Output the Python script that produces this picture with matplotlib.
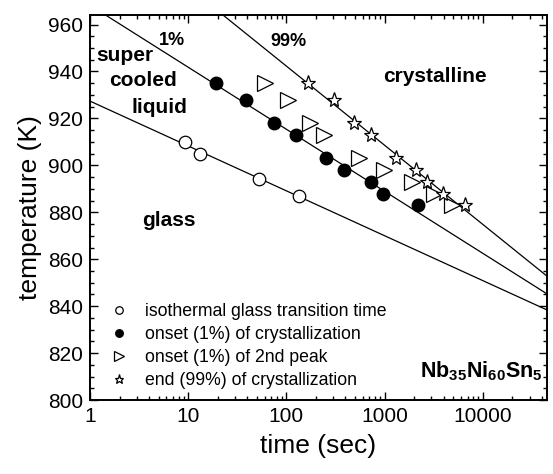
import numpy as np
import matplotlib.pyplot as plt
from matplotlib.ticker import LogLocator, MultipleLocator, NullFormatter

plt.rcParams['font.family'] = ['Liberation Sans', 'DejaVu Sans']
plt.rcParams['mathtext.fontset'] = 'custom'
plt.rcParams['mathtext.rm'] = 'Liberation Sans'
plt.rcParams['mathtext.bf'] = 'Liberation Sans:bold'

# isothermal glass transition time
t_glass = [9.2, 13.1, 53, 136]
T_glass = [910, 905, 894, 887]

# onset (1%) of crystallization
t_onset = [19, 39, 75, 124, 254, 384, 730, 957, 2170]
T_onset = [935, 928, 918, 913, 903, 898, 893, 888, 883]

# onset (1%) of 2nd peak
t_peak2 = [60, 104, 175, 244, 555, 995, 1900, 3150, 4900]
T_peak2 = [935, 928, 918, 913, 903, 898, 893, 888, 883]

# end (99%) of crystallization
t_end = [168, 304, 485, 729, 1310, 2090, 2680, 3960, 6620]
T_end = [935, 928, 918, 913, 903, 898, 893, 888, 883]


def fit_line(t, T):
    # straight line in T vs log(t)
    p = np.polyfit(np.log10(t), T, 1)
    tt = np.logspace(0, np.log10(5e4), 50)
    return tt, np.polyval(p, np.log10(tt))


fig = plt.figure(figsize=(5.53, 4.74), dpi=100)
ax = fig.add_axes([0.1627, 0.156, 0.8263, 0.812])

for t, T in [(t_glass, T_glass), (t_onset, T_onset), (t_end, T_end)]:
    tt, TT = fit_line(t, T)
    ax.plot(tt, TT, color='black', lw=0.9)

ax.plot(t_glass, T_glass, 'o', ms=9, mfc='white', mec='black', mew=0.9,
        ls='none', label='isothermal glass transition time')
ax.plot(t_onset, T_onset, 'o', ms=9, mfc='black', mec='black',
        ls='none', label='onset (1%) of crystallization')
ax.plot(t_peak2, T_peak2, '>', ms=11, mfc='white', mec='black', mew=0.9,
        ls='none', label='onset (1%) of 2nd peak')
ax.plot(t_end, T_end, '*', ms=11, mfc='white', mec='black', mew=0.9,
        ls='none', label='end (99%) of crystallization')

ax.set_xscale('log')
ax.set_xlim(1, 4.5e4)
ax.set_ylim(800, 964)
ax.set_xticks([1, 10, 100, 1000, 10000])
ax.set_xticklabels(['1', '10', '100', '1000', '10000'])
ax.xaxis.set_minor_locator(LogLocator(base=10, subs=np.arange(2, 10)))
ax.xaxis.set_minor_formatter(NullFormatter())
ax.yaxis.set_major_locator(MultipleLocator(20))
ax.yaxis.set_minor_locator(MultipleLocator(5))

ax.tick_params(which='both', direction='in', top=True, right=True,
               labelsize=15, width=1)
ax.tick_params(which='major', length=6, pad=5)
ax.tick_params(which='minor', length=3)
for s in ax.spines.values():
    s.set_linewidth(1.4)

ax.set_xlabel('time (sec)', fontsize=19, labelpad=6)
ax.set_ylabel('temperature (K)', fontsize=19, labelpad=4)

# region labels
kw = dict(transform=ax.transAxes, fontsize=15, fontweight='bold',
          ha='center', va='center')
ax.text(0.179, 0.935, '1%', fontsize=13, fontweight='bold',
        transform=ax.transAxes, ha='center', va='center')
ax.text(0.434, 0.931, '99%', fontsize=13, fontweight='bold',
        transform=ax.transAxes, ha='center', va='center')
ax.text(0.077, 0.896, 'super', **kw)
ax.text(0.117, 0.829, 'cooled', **kw)
ax.text(0.153, 0.761, 'liquid', **kw)
ax.text(0.755, 0.840, 'crystalline', **kw)
ax.text(0.173, 0.467, 'glass', **kw)
ax.text(0.992, 0.076, r'$\mathbf{Nb_{35}Ni_{60}Sn_{5}}$', fontsize=15.5,
        transform=ax.transAxes, ha='right', va='center')

ax.legend(loc='lower left', frameon=False, fontsize=12.7, markerscale=0.6,
          handlelength=1.0, handletextpad=1.0, labelspacing=0.35,
          borderaxespad=0.2, bbox_to_anchor=(0.02, 0.0))

plt.savefig('out.png', dpi=100)
